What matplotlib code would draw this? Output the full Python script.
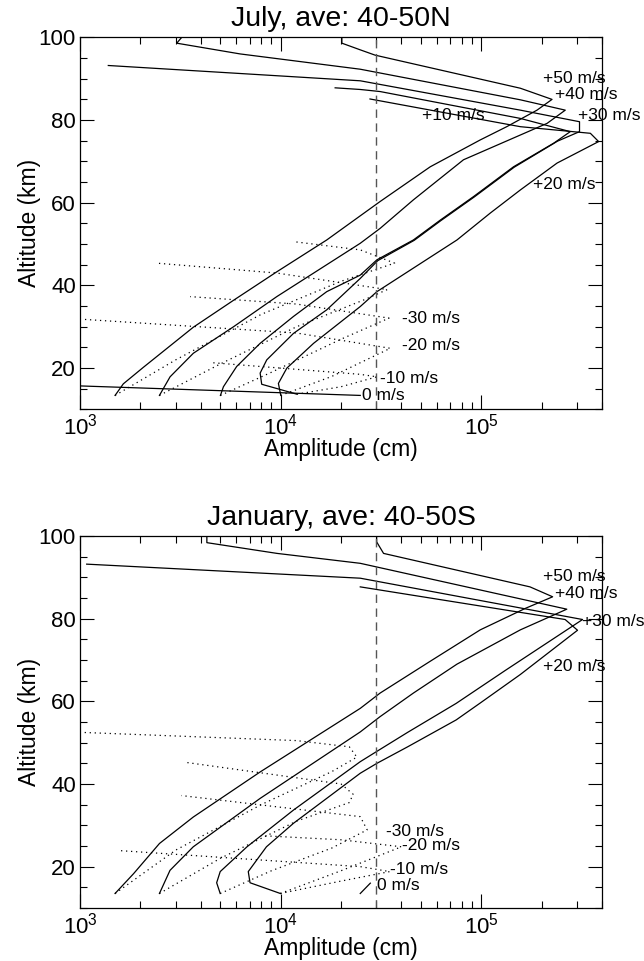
import matplotlib
matplotlib.use("Agg")
import matplotlib.pyplot as plt
import numpy as np
from matplotlib.ticker import MultipleLocator, LogLocator, NullFormatter

plt.rcParams['font.family'] = ['Liberation Sans', 'DejaVu Sans']
plt.rcParams['mathtext.fontset'] = 'custom'
plt.rcParams['mathtext.rm'] = 'Liberation Sans'

# ---------------- July, 40-50N ----------------
jul_p50_amp = [1496, 1644, 2070, 3673, 5821, 9572, 16980, 31330, 55700, 98900, 134000, 189700, 225400,
               156700, 29600, 24900, 20200, 20200]
jul_p50_alt = [13.4, 16.2, 20.2, 29.9, 36.4, 43.3, 51.0, 60.3, 68.7, 75.2, 78.4, 82.4, 85.0,
               87.7, 95.7, 97.0, 98.6, 100.0]
jul_p40_amp = [2489, 2812, 3673, 5821, 9572, 24950, 31330, 45900, 81600, 212900, 262400,
               156700, 24950, 6280, 3034, 3214]
jul_p40_alt = [13.4, 17.9, 23.6, 30.0, 37.3, 50.2, 53.8, 60.7, 70.4, 79.2, 82.4,
               84.9, 92.3, 96.0, 98.6, 100.0]
jul_p10_amp = [5012, 5188, 6040, 7907, 11590, 16980, 24950, 30200, 45900, 62500, 91600, 144900, 229600, 277900,
               156700, 31330, 24950, 18700]
jul_p10_alt = [13.4, 15.5, 20.4, 26.0, 32.5, 38.5, 42.5, 46.2, 51.0, 55.8, 61.5, 68.7, 74.4, 77.2,
               80.4, 86.9, 87.4, 87.8]
jul_p30_amp = [12050, 8050, 7907, 8530, 11590, 16980, 24950, 30500, 46300, 63000, 92300, 146000, 240000, 309000, 309000,
               156700, 24950, 1384]
jul_p30_alt = [13.7, 16.1, 18.8, 22.0, 28.4, 34.1, 41.7, 46.0, 50.9, 55.7, 61.4, 68.6, 74.9, 77.2, 79.6,
               82.4, 89.5, 93.2]
jul_p20_amp = [10020, 9750, 10740, 14600, 24950, 30200, 75700, 110900, 156700, 238800, 384800,
               350000, 156700, 27900]
jul_p20_alt = [13.4, 16.3, 20.0, 26.0, 34.9, 38.5, 51.0, 57.5, 63.1, 69.6, 74.8,
               76.8, 78.4, 85.1]
jul_0_amp = [1000, 24950]
jul_0_alt = [15.7, 13.4]

# dotted (negative phase speeds)
jul_m50_amp = [1496, 3000, 8000, 20000, 37000, 24950, 11600]
jul_m50_alt = [13.4, 22.0, 33.0, 41.0, 45.4, 48.6, 50.6]
jul_m40_amp = [2489, 5000, 12000, 26000, 34000, 9572, 2400]
jul_m40_alt = [13.4, 21.0, 30.0, 36.5, 39.0, 43.0, 45.4]
jul_m30_amp = [5012, 9000, 20000, 34700, 12000, 3540]
jul_m30_alt = [13.4, 19.0, 27.0, 32.1, 35.5, 37.3]
jul_m20_amp = [10020, 18000, 35200, 12000, 1040]
jul_m20_alt = [13.4, 18.0, 24.8, 28.5, 31.8]
jul_m10_amp = [12050, 20000, 30200, 24950, 4600]
jul_m10_alt = [13.7, 15.5, 17.9, 18.5, 21.3]

jul_labels = ['+50 m/s', '+40 m/s', '+30 m/s', '+10 m/s', '+20 m/s',
              '-30 m/s', '-20 m/s', '-10 m/s', '0 m/s']
jul_lab_amp = [203700, 233900, 304800, 50600, 181600, 40400, 40400, 31300, 25500]
jul_lab_alt = [90.1, 86.1, 81.2, 81.2, 64.3, 32.1, 25.4, 17.6, 13.3]

# ---------------- January, 40-50S ----------------
jan_p50_amp = [1496, 1850, 2490, 3670, 7900, 24950, 31330, 55700, 98900, 166000, 227000,
               175000, 32600, 30100, 30100]
jan_p50_alt = [13.5, 18.3, 25.6, 32.0, 42.9, 58.3, 62.0, 69.7, 77.3, 82.5, 85.3,
               87.7, 95.8, 98.6, 100.0]
jan_p40_amp = [2489, 2810, 3670, 7900, 24950, 31330, 45900, 75700, 156700, 267000,
               24950, 9600, 4290, 4290]
jan_p40_alt = [13.5, 19.1, 24.8, 36.5, 52.6, 56.3, 62.0, 69.0, 77.3, 82.3,
               93.4, 95.8, 98.4, 100.0]
jan_p30_amp = [5000, 4800, 5000, 6800, 11600, 24950, 30200, 43000, 75000, 132000, 320000,
               24950, 1080]
jan_p30_alt = [13.5, 16.1, 18.8, 24.8, 33.7, 45.4, 47.9, 52.5, 59.5, 67.5, 79.8,
               89.8, 93.2]
jan_p20_amp = [9970, 7040, 6900, 8500, 11600, 24950, 30200, 43000, 75000, 98900, 156700, 302000, 262000,
               24950]
jan_p20_alt = [13.5, 16.1, 18.8, 24.8, 30.5, 42.6, 45.0, 49.0, 55.5, 59.6, 66.5, 77.2, 79.8,
               87.7]
jan_0_amp = [24950, 28000]
jan_0_alt = [13.5, 16.0]

jan_m50_amp = [1496, 3000, 8000, 18000, 24000, 22000, 12000, 1000]
jan_m50_alt = [13.5, 24.0, 35.0, 43.0, 46.5, 49.0, 50.5, 52.5]
jan_m40_amp = [2489, 5000, 12000, 22000, 23000, 20000, 3400]
jan_m40_alt = [13.5, 22.0, 31.0, 35.5, 37.5, 40.0, 45.2]
jan_m30_amp = [5000, 9000, 18000, 27000, 24950, 3200]
jan_m30_alt = [13.5, 19.0, 24.5, 28.9, 32.1, 37.2]
jan_m20_amp = [9970, 20000, 40000, 20000, 8000]
jan_m20_alt = [13.5, 19.0, 24.8, 26.5, 27.5]
jan_m10_amp = [9970, 20000, 35000, 24950, 1550]
jan_m10_alt = [13.5, 16.5, 18.8, 20.0, 23.9]

jan_labels = ['+50 m/s', '+40 m/s', '+30 m/s', '+20 m/s',
              '-30 m/s', '-20 m/s', '-10 m/s', '0 m/s']
jan_lab_amp = [203700, 233900, 317000, 203700, 33600, 40200, 35200, 30200]
jan_lab_alt = [90.2, 86.1, 79.3, 68.4, 28.4, 25.0, 19.2, 15.4]

DASH_X = 3.0e4


def style_axes(ax, title):
    ax.set_xscale('log')
    ax.set_xlim(1e3, 4e5)
    ax.set_ylim(10, 100)
    ax.yaxis.set_major_locator(MultipleLocator(20))
    ax.yaxis.set_minor_locator(MultipleLocator(5))
    ax.xaxis.set_major_locator(LogLocator(base=10, numticks=10))
    ax.xaxis.set_minor_locator(LogLocator(base=10, subs=np.arange(2, 10), numticks=20))
    ax.xaxis.set_minor_formatter(NullFormatter())
    ax.tick_params(which='both', direction='in', top=True, right=True, width=0.8, colors='black')
    ax.tick_params(which='major', length=10, labelsize=16, pad=3)
    ax.tick_params(which='minor', length=5)
    ax.set_xlabel('Amplitude (cm)', fontsize=16.5, labelpad=-1)
    ax.set_ylabel('Altitude (km)', fontsize=16.5, labelpad=-2)
    ax.set_title(title, fontsize=20.5, pad=8)
    for s in ax.spines.values():
        s.set_linewidth(0.9)
    ax.axvline(DASH_X, color='#555555', lw=1.0, dashes=(6, 4))


fig = plt.figure(figsize=(6.44, 9.61), dpi=100)
ax1 = fig.add_axes([0.1242, 0.5739, 0.8106, 0.3872])
ax2 = fig.add_axes([0.1242, 0.0552, 0.8106, 0.3870])

lw = 0.9
for a, h in [(jul_p50_amp, jul_p50_alt), (jul_p40_amp, jul_p40_alt), (jul_p10_amp, jul_p10_alt),
             (jul_p30_amp, jul_p30_alt), (jul_p20_amp, jul_p20_alt), (jul_0_amp, jul_0_alt)]:
    ax1.plot(a, h, color='black', lw=lw)
for a, h in [(jul_m50_amp, jul_m50_alt), (jul_m40_amp, jul_m40_alt), (jul_m30_amp, jul_m30_alt),
             (jul_m20_amp, jul_m20_alt), (jul_m10_amp, jul_m10_alt)]:
    ax1.plot(a, h, color='black', lw=lw, ls=(0, (1, 3)))
for t, x, y in zip(jul_labels, jul_lab_amp, jul_lab_alt):
    ax1.text(x, y, t, fontsize=12.5, ha='left', va='center', clip_on=False)
style_axes(ax1, 'July, ave: 40-50N')

for a, h in [(jan_p50_amp, jan_p50_alt), (jan_p40_amp, jan_p40_alt), (jan_p30_amp, jan_p30_alt),
             (jan_p20_amp, jan_p20_alt), (jan_0_amp, jan_0_alt)]:
    ax2.plot(a, h, color='black', lw=lw)
for a, h in [(jan_m50_amp, jan_m50_alt), (jan_m40_amp, jan_m40_alt), (jan_m30_amp, jan_m30_alt),
             (jan_m20_amp, jan_m20_alt), (jan_m10_amp, jan_m10_alt)]:
    ax2.plot(a, h, color='black', lw=lw, ls=(0, (1, 3)))
for t, x, y in zip(jan_labels, jan_lab_amp, jan_lab_alt):
    ax2.text(x, y, t, fontsize=12.5, ha='left', va='center', clip_on=False)
style_axes(ax2, 'January, ave: 40-50S')

fig.savefig('out.png', dpi=100)
